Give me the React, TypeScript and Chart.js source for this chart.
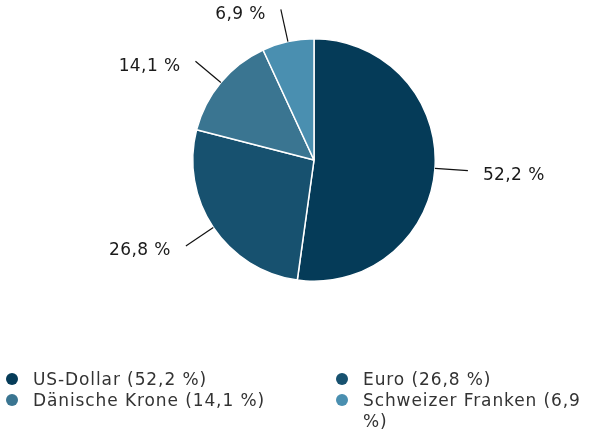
import React, { useEffect, useRef } from "react";
import { Chart, registerables } from "chart.js";

Chart.register(...registerables);

const categories = ["US-Dollar", "Euro", "Dänische Krone", "Schweizer Franken"];
const values = [52.2, 26.8, 14.1, 6.9];
const colors = ["#053b58", "#17516f", "#3a7591", "#4a8fb0"];

const fmt = (v: number) => v.toFixed(1).replace(".", ",") + " %";

const FONT = "'DejaVu Sans', sans-serif";

const labelPlugin = {
  id: "outLabels",
  afterDatasetsDraw(chart: any) {
    const ctx = chart.ctx;
    const meta = chart.getDatasetMeta(0);
    ctx.save();
    meta.data.forEach((arc: any, i: number) => {
      const { x, y, startAngle, endAngle, outerRadius } = arc.getProps(
        ["x", "y", "startAngle", "endAngle", "outerRadius"],
        true
      );
      const mid = (startAngle + endAngle) / 2;
      const c = Math.cos(mid);
      const s = Math.sin(mid);
      const x1 = x + outerRadius * c;
      const y1 = y + outerRadius * s;
      const x2 = x + (outerRadius + 33) * c;
      const y2 = y + (outerRadius + 33) * s;
      ctx.beginPath();
      ctx.strokeStyle = "#111";
      ctx.lineWidth = 1.2;
      ctx.moveTo(x1, y1);
      ctx.lineTo(x2, y2);
      ctx.stroke();
      ctx.font = "17px " + FONT;
      (ctx as any).letterSpacing = "0.4px";
      ctx.fillStyle = "#1a1a1a";
      ctx.textBaseline = "middle";
      if (c >= 0) {
        ctx.textAlign = "left";
        ctx.fillText(fmt(values[i]), x2 + 15, y2 + 5);
      } else {
        ctx.textAlign = "right";
        ctx.fillText(fmt(values[i]), x2 - 15, y2 + 5);
      }
    });
    ctx.restore();
  },
};

export default function App() {
  const ref = useRef<HTMLCanvasElement | null>(null);
  useEffect(() => {
    if (!ref.current) return;
    const chart = new Chart(ref.current, {
      type: "pie",
      data: {
        labels: categories,
        datasets: [
          {
            data: values,
            backgroundColor: colors,
            borderColor: "#ffffff",
            borderWidth: 1.5,
          },
        ],
      },
      options: {
        responsive: false,
        animation: false,
        layout: { padding: { left: 192, right: 162, top: 38, bottom: 148 } },
        plugins: {
          legend: { display: false },
          tooltip: { enabled: false },
        },
      },
      plugins: [labelPlugin],
    });
    return () => chart.destroy();
  }, []);

  const legendItem = (i: number) => (
    <div
      key={i}
      style={{ display: "flex", alignItems: "flex-start", lineHeight: "21px" }}
    >
      <span
        style={{
          display: "inline-block",
          width: 12,
          height: 12,
          borderRadius: "50%",
          background: colors[i],
          marginTop: 4,
          marginRight: 15,
          flex: "0 0 auto",
        }}
      />
      <span>{categories[i] + " (" + fmt(values[i]) + ")"}</span>
    </div>
  );

  const colStyle = {
    position: "absolute" as const,
    top: 369,
    fontFamily: FONT,
    fontSize: 17,
    letterSpacing: "0.9px",
    color: "#333",
  };

  return (
    <div
      style={{
        position: "fixed",
        left: 0,
        top: 0,
        width: 598,
        height: 430,
        background: "#fff",
        overflow: "hidden",
      }}
    >
      <canvas ref={ref} width={598} height={430} style={{ display: "block" }} />
      <div style={{ ...colStyle, left: 6, width: 330 }}>
        {legendItem(0)}
        {legendItem(2)}
      </div>
      <div style={{ ...colStyle, left: 336, width: 262 }}>
        {legendItem(1)}
        {legendItem(3)}
      </div>
    </div>
  );
}
